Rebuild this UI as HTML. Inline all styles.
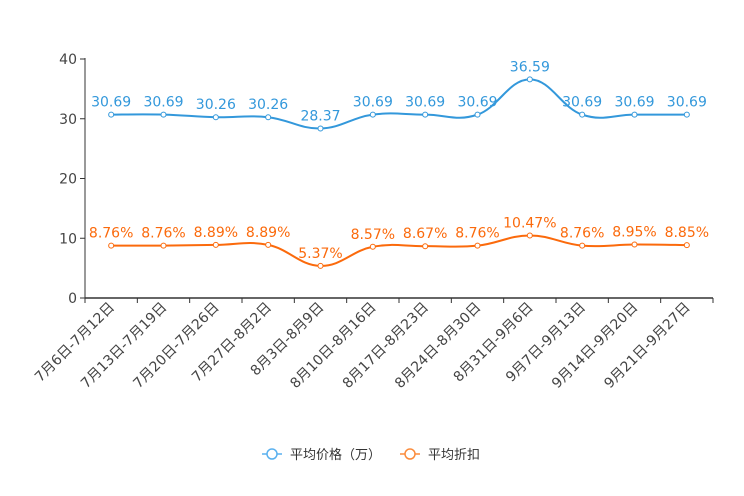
<!DOCTYPE html>
<html><head><meta charset="utf-8"><style>
html,body{margin:0;padding:0;background:#fff;}
svg{display:block;font-family:"DejaVu Sans","Noto Sans CJK SC",sans-serif;}
</style></head><body>
<svg id="chart" width="744" height="496"></svg>
<script>
const categories=["7月6日-7月12日","7月13日-7月19日","7月20日-7月26日","7月27日-8月2日","8月3日-8月9日","8月10日-8月16日","8月17日-8月23日","8月24日-8月30日","8月31日-9月6日","9月7日-9月13日","9月14日-9月20日","9月21日-9月27日"];
const priceValues=[30.69,30.69,30.26,30.26,28.37,30.69,30.69,30.69,36.59,30.69,30.69,30.69];
const discountValues=[8.76,8.76,8.89,8.89,5.37,8.57,8.67,8.76,10.47,8.76,8.95,8.85];
const yTicks=[0,10,20,30,40];
const NS="http://www.w3.org/2000/svg";
const svg=document.getElementById('chart');
const X0=85,X1=713,Y0=298,Y1=59;
const band=(X1-X0)/categories.length;
const xs=i=>X0+band*(i+0.5);
const ys=v=>Y0-(v/40)*(Y0-Y1);
function mk(t,a,p){const e=document.createElementNS(NS,t);for(const k in a)e.setAttribute(k,a[k]);(p||svg).appendChild(e);return e;}
const yAxis=mk('g',{});


mk('line',{x1:X0,y1:Y1-1,x2:X0,y2:Y0,stroke:'#333','stroke-width':1},yAxis);
yTicks.forEach(v=>{
  mk('line',{x1:X0-5,y1:ys(v),x2:X0,y2:ys(v),stroke:'#333'},yAxis);
  const t=mk('text',{x:X0-8,y:ys(v)+5,'text-anchor':'end','font-size':14,fill:'#444'},yAxis);
  
  
  t.textContent=v;
});
const xAxis=mk('g',{});


mk('line',{x1:X0,y1:Y0,x2:X1,y2:Y0,stroke:'#333','stroke-width':1.5},xAxis);
for(let i=0;i<=categories.length;i++){mk('line',{x1:X0+band*i,y1:Y0,x2:X0+band*i,y2:Y0+5,stroke:'#333'},xAxis);}
categories.forEach((c,i)=>{
  const x=xs(i)+4,y=Y0+10;
  const t=mk('text',{x:x,y:y,'text-anchor':'end','font-size':14,fill:'#444',transform:`rotate(-45 ${x} ${y})`},xAxis);
  
  
  t.textContent=c;
});
function smoothPath(pts){
  let d=`M${pts[0][0]},${pts[0][1]}`;
  for(let i=0;i<pts.length-1;i++){
    const p0=pts[i-1]||pts[i],p1=pts[i],p2=pts[i+1],p3=pts[i+2]||p2;
    const k=0.2;
    const c1=[p1[0]+(p2[0]-p0[0])*k,p1[1]+(p2[1]-p0[1])*k];
    const c2=[p2[0]-(p3[0]-p1[0])*k,p2[1]-(p3[1]-p1[1])*k];
    d+=` C${c1[0]},${c1[1]} ${c2[0]},${c2[1]} ${p2[0]},${p2[1]}`;
  }
  return d;
}
function series(vals,color,name,fmt){
  const g=mk('g',{});
  
  
  const pts=vals.map((v,i)=>[xs(i),ys(v)]);
  mk('path',{d:smoothPath(pts),fill:'none',stroke:color,'stroke-width':2},g);
  pts.forEach((p,i)=>{
    const c=mk('circle',{cx:p[0],cy:p[1],r:2.5,fill:'#fff',stroke:color,'stroke-width':1},g);
    
    
    const t=mk('text',{x:p[0],y:p[1]-8,'text-anchor':'middle','font-size':14,fill:color},g);
    
    
    t.textContent=fmt(vals[i]);
  });
}
series(priceValues,'#3398db','price-series',v=>v.toFixed(2));
series(discountValues,'#fb6a0c','discount-series',v=>v.toFixed(2)+'%');
function legend(x,color,label,name){
  const g=mk('g',{});
  
  
  mk('line',{x1:x,y1:454,x2:x+20,y2:454,stroke:color,'stroke-width':1.5},g);
  mk('circle',{cx:x+10,cy:454,r:5,fill:'#fff',stroke:color,'stroke-width':1.5},g);
  const t=mk('text',{x:x+28,y:459,'font-size':13,fill:'#333'},g);
  t.textContent=label;
}
legend(262,'#5ab1ef','平均价格（万）','legend-price');
legend(400,'#fb8c3c','平均折扣','legend-discount');
</script>
</body></html>
